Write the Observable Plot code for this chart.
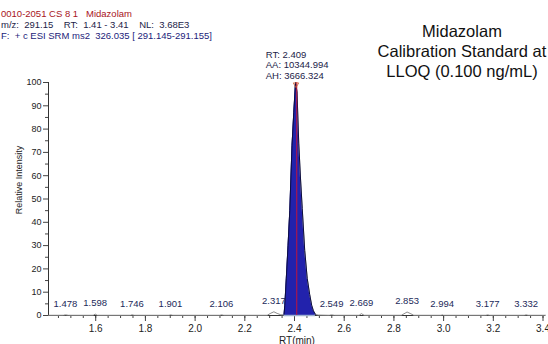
<!DOCTYPE html>
<html>
<head>
<meta charset="utf-8">
<script src="https://cdn.jsdelivr.net/npm/d3@7"></script>
<script src="https://cdn.jsdelivr.net/npm/@observablehq/plot@0.6"></script>
<style>
  html, body { margin: 0; padding: 0; background: #fff; }
  #wrap { position: relative; width: 548px; height: 344px; overflow: hidden; font-family: "Liberation Sans", Arial, sans-serif; }
  #wrap svg { position: absolute; left: 0; top: 0; }
  .hdr { position: absolute; left: 1px; font-size: 9.5px; white-space: pre; line-height: 11px; }
  #title { position: absolute; left: 372px; width: 180px; top: 21px; text-align: center; font-size: 16.5px; line-height: 20px; color: #111; }
  #ylab { position: absolute; left: 19px; top: 180px; width: 0; height: 0; }
  #ylab span { position: absolute; transform: translate(-50%, -50%) rotate(-90deg); white-space: nowrap; font-size: 9px; color: #222; }
</style>
</head>
<body>
<div id="wrap">
  <div class="hdr" style="top:8px;color:#a8141c">0010-2051 CS 8 1   Midazolam</div>
  <div class="hdr" style="top:19px;color:#1c1c48">m/z:  291.15    RT:  1.41 - 3.41    NL:  3.68E3</div>
  <div class="hdr" style="top:30px;color:#1c1c7a">F:  + c ESI SRM ms2  326.035 [ 291.145-291.155]</div>
  <div id="title">Midazolam<br>Calibration Standard at<br>LLOQ (0.100 ng/mL)</div>
  <div id="ylab"><span>Relative Intensity</span></div>
</div>
<script>
// Chromatogram trace (retention time, min) and relative intensity (%)
const traceRT = [1.41,1.47,1.478,1.49,1.59,1.598,1.606,1.74,1.746,1.755,1.895,1.901,1.91,2.10,2.106,2.115,2.29,2.305,2.317,2.33,2.345,2.355,
  2.358,2.361,2.367,2.374,2.381,2.390,2.397,2.404,2.410,2.417,2.424,2.431,2.441,2.451,2.461,2.469,2.476,2.484,
  2.495,2.54,2.549,2.56,2.66,2.669,2.68,2.83,2.845,2.853,2.865,2.88,2.99,2.994,3.0,3.17,3.177,3.185,3.325,3.332,3.34,3.41];
const traceIntensity = [0.1,0.1,0.3,0.1,0.1,0.6,0.1,0.1,0.3,0.1,0.1,0.3,0.1,0.1,0.3,0.1,0.1,1.0,1.6,0.9,0.3,0.3,
  0.5,4.4,16,30,45,73,87,100,96,74,59,46,28,16,9,4.4,2,0.5,
  0.2,0.1,0.3,0.1,0.1,0.8,0.1,0.1,1.0,1.5,0.9,0.1,0.1,0.3,0.1,0.1,0.3,0.1,0.1,0.3,0.1,0.1];
// Integrated peak range
const peakStart = 2.358, peakEnd = 2.484;
const peakRT = 2.409;
const peakInfo = "RT: 2.409\nAA: 10344.994\nAH: 3666.324";
// Labelled peaks along the baseline
const labelRT = [1.478,1.598,1.746,1.901,2.106,2.317,2.549,2.669,2.853,2.994,3.177,3.332];
const labelApex = [0.3,0.6,0.3,0.3,0.3,1.6,0.3,0.8,1.5,0.3,0.3,0.3];
// Axis ticks
const xTicks = [1.6,1.8,2.0,2.2,2.4,2.6,2.8,3.0,3.2,3.4];
const xMinorTicks = d3.range(1.45, 3.41, 0.05).map(v => +v.toFixed(2));
const yTicks = [0,10,20,30,40,50,60,70,80,90,100];
const yMinorTicks = [5,15,25,35,45,55,65,75,85,95];

const trace = traceRT.map((t, i) => ({rt: t, v: traceIntensity[i]}));
const peak = trace.filter(d => d.rt >= peakStart && d.rt <= peakEnd);
const labels = labelRT.map((t, i) => ({rt: t, v: labelApex[i], text: t.toFixed(3)}));

const chart = Plot.plot({
  width: 548,
  height: 344,
  marginLeft: 48,
  marginRight: 3,
  marginTop: 82,
  marginBottom: 29,
  style: {fontFamily: "Liberation Sans, Arial, sans-serif", fontSize: "10px", color: "#222", background: "transparent", overflow: "visible"},
  x: {domain: [1.41, 3.41]},
  y: {domain: [0, 100]},
  marks: [
    Plot.axisX({ticks: xMinorTicks, tickSize: 3, text: null, label: null, stroke: "#444"}),
    Plot.axisX({ticks: xTicks, tickSize: 6, tickPadding: 3, tickFormat: d3.format(".1f"), label: "RT(min)", labelAnchor: "center", labelArrow: "none", labelOffset: 28, stroke: "#444", fontSize: 10}),
    Plot.axisY({ticks: yMinorTicks, tickSize: 3, text: null, label: null, stroke: "#444"}),
    Plot.axisY({ticks: yTicks, tickSize: 5, tickPadding: 2, label: null, stroke: "#444", fontSize: 9}),
    Plot.ruleY([0], {stroke: "#333"}),
    Plot.ruleX([1.41], {y1: 0, y2: 100, stroke: "#333"}),
    Plot.lineY(trace, {x: "rt", y: "v", stroke: "#8c8c8c", strokeWidth: 1}),
    Plot.areaY(peak, {x: "rt", y: "v", fill: "#2222ac"}),
    Plot.lineY(peak, {x: "rt", y: "v", stroke: "#0c0c40", strokeWidth: 1}),
    Plot.ruleY([0], {x1: peakStart, x2: peakEnd, stroke: "#9db0d0", strokeWidth: 1.5}),
    Plot.ruleX([peakRT], {y1: 0, y2: 100, stroke: "#c0143c", strokeWidth: 1}),
    Plot.dot([peakRT], {x: d => d - 0.003, y: 100, symbol: "triangle", rotate: 180, r: 2, stroke: "#d06030", fill: "none", strokeWidth: 0.8, dy: 2}),
    Plot.text([peakInfo], {x: peakRT, y: 100, text: d => d, textAnchor: "start", lineAnchor: "bottom", dx: -31, dy: -4, fontSize: 9.5, lineHeight: 1.1, fill: "#1c1c48"}),
    Plot.text(labels, {x: "rt", y: "v", text: "text", dy: -11, fontSize: 9.5, fill: "#1c2a5a"})
  ]
});
document.getElementById("wrap").prepend(chart);
</script>
</body>
</html>
